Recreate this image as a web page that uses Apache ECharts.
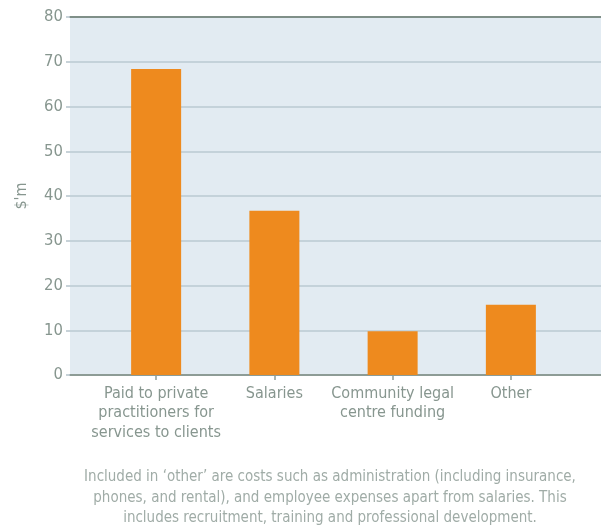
<!DOCTYPE html>
<html>
<head>
<meta charset="utf-8">
<script src="https://cdn.jsdelivr.net/npm/echarts@6/dist/echarts.min.js"></script>
<style>
  html, body { margin: 0; padding: 0; background: #ffffff; }
  #chart { width: 601px; height: 527px; }
</style>
</head>
<body>
<div id="chart"></div>
<script>
// Legal aid expenditure by category ($ million)
const categories = [
  'Paid to private\npractitioners for\nservices to clients',
  'Salaries',
  'Community legal\ncentre funding',
  'Other'
];
const spending = [68.4, 36.7, 9.8, 15.7];
const yTicks = { min: 0, max: 80, step: 10 };
const yAxisTitle = "$'m";
const footnote = "Included in \u2018other\u2019 are costs such as administration (including insurance,\nphones, and rental), and employee expenses apart from salaries. This\nincludes recruitment, training and professional development.";

const FONT = '"Liberation Sans Narrow", "DejaVu Sans Condensed", "Open Sans", sans-serif';
const TEXT = '#87968f';

const chart = echarts.init(document.getElementById('chart'), null, { renderer: 'canvas' });

chart.setOption({
  animation: false,
  grid: [
    // full-width panel: background, gridlines, baseline
    { left: 70, right: -6, top: 17, bottom: 152, show: true, backgroundColor: '#e2ebf2', borderWidth: 0 },
    // category band for the bars
    { left: 97, right: 31, top: 17, bottom: 152 }
  ],
  xAxis: [
    { type: 'value', gridIndex: 0, min: 0, max: 1, position: 'bottom',
      axisLine: { show: true, lineStyle: { color: '#8d9c96', width: 2 } },
      axisTick: { show: false }, axisLabel: { show: false }, splitLine: { show: false } },
    { type: 'value', gridIndex: 0, min: 0, max: 1, position: 'top',
      axisLine: { show: true, lineStyle: { color: '#7f8f88', width: 2 } },
      axisTick: { show: false }, axisLabel: { show: false }, splitLine: { show: false } },
    { type: 'category', gridIndex: 1, data: categories,
      axisLine: { show: false },
      axisTick: { show: true, alignWithLabel: true, length: 5, lineStyle: { color: '#8d9c96', width: 1.5 } },
      axisLabel: { color: TEXT, fontFamily: FONT, fontSize: 16, lineHeight: 19.5, margin: 9, interval: 0 } }
  ],
  yAxis: [
    { type: 'value', gridIndex: 0, min: yTicks.min, max: yTicks.max, interval: yTicks.step,
      name: yAxisTitle, nameLocation: 'middle', nameGap: 40, nameRotate: 90,
      nameTextStyle: { color: TEXT, fontFamily: FONT, fontSize: 16 },
      axisLine: { show: false },
      axisTick: { show: true, length: 4, lineStyle: { color: '#b5c3cb', width: 1.5 } },
      axisLabel: { color: TEXT, fontFamily: FONT, fontSize: 16.5, margin: 7 },
      splitLine: { show: true, lineStyle: { color: '#c4d2da', width: 2 } } },
    { type: 'value', gridIndex: 1, min: yTicks.min, max: yTicks.max, interval: yTicks.step, show: false }
  ],
  series: [{
    type: 'bar',
    xAxisIndex: 2,
    yAxisIndex: 1,
    data: spending,
    barWidth: 50,
    itemStyle: { color: '#ee8a1e' }
  }],
  graphic: [{
    type: 'text',
    x: 330,
    y: 467,
    style: {
      text: footnote,
      textAlign: 'center',
      fill: '#a0aca7',
      font: '15px ' + FONT,
      lineHeight: 20.5
    }
  }]
});
</script>
</body>
</html>
